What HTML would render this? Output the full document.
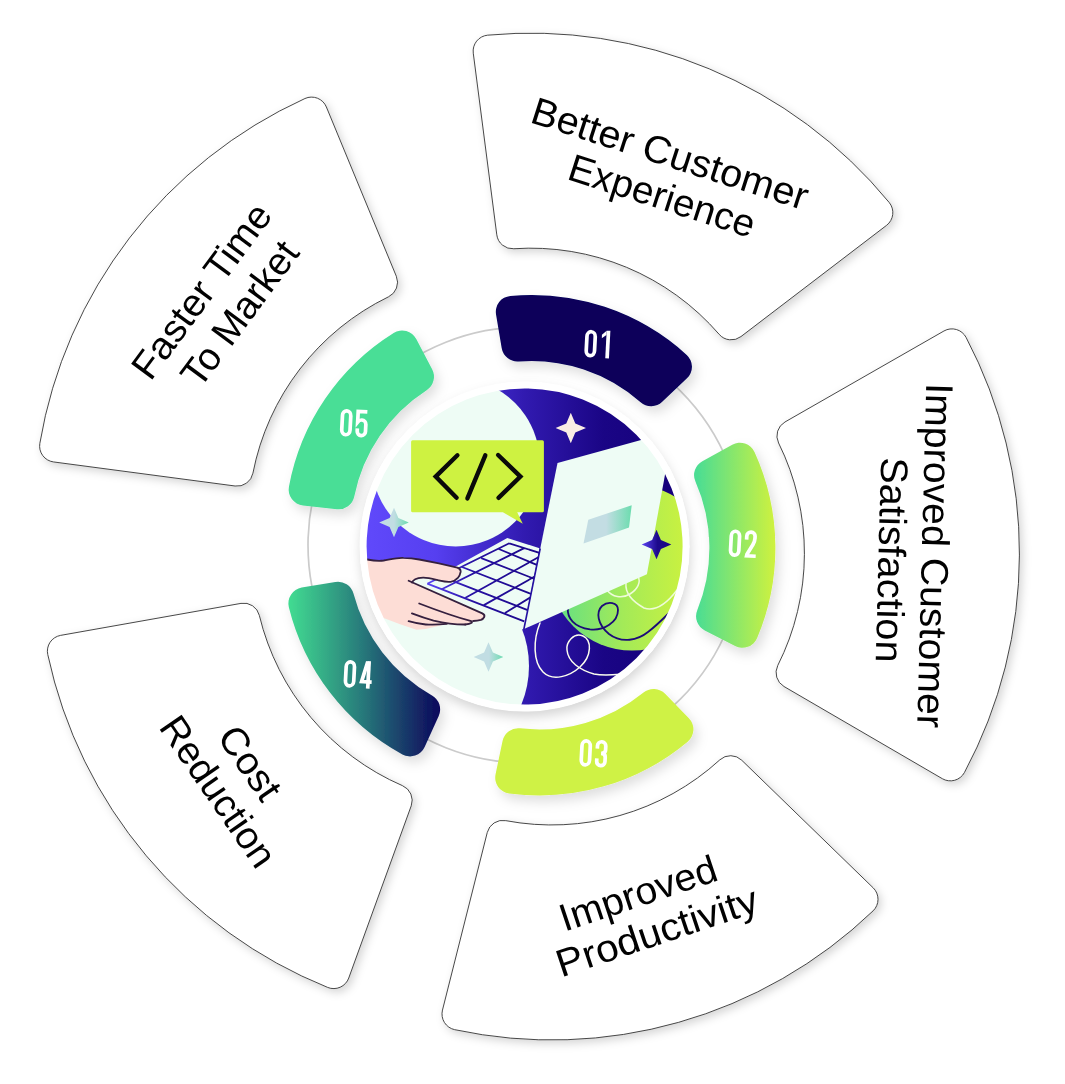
<!DOCTYPE html>
<html><head><meta charset="utf-8"><title>Diagram</title>
<style>
html,body{margin:0;padding:0;background:#fff;}
body{width:1065px;height:1084px;overflow:hidden;font-family:"Liberation Sans",sans-serif;}
svg{display:block}
.lbl{font-family:"Liberation Sans",sans-serif;font-size:38.5px;fill:#000;text-anchor:start}
.num{font-family:"Liberation Sans",sans-serif;font-weight:bold;font-size:39px;fill:#fff;text-anchor:middle}
</style></head><body>
<svg width="1065" height="1084" viewBox="0 0 1065 1084">
<defs>
<filter id="shP" x="-10%" y="-10%" width="125%" height="125%"><feDropShadow dx="3" dy="3.5" stdDeviation="4" flood-color="#000" flood-opacity="0.16"/></filter>
<filter id="shS" x="-20%" y="-20%" width="150%" height="150%"><feDropShadow dx="4" dy="6" stdDeviation="6" flood-color="#000" flood-opacity="0.13"/></filter>
<filter id="shC" x="-20%" y="-20%" width="140%" height="140%"><feDropShadow dx="1" dy="6" stdDeviation="6" flood-color="#000" flood-opacity="0.17"/></filter>
<linearGradient id="g2" gradientUnits="userSpaceOnUse" x1="697" y1="0" x2="777" y2="0"><stop offset="0" stop-color="#4bdd93"/><stop offset="1" stop-color="#d2f23c"/></linearGradient>
<linearGradient id="g4" gradientUnits="userSpaceOnUse" x1="287" y1="0" x2="440" y2="0"><stop offset="0" stop-color="#42de92"/><stop offset="0.5" stop-color="#27787a"/><stop offset="1" stop-color="#0c065c"/></linearGradient>
<clipPath id="cc"><circle cx="524.6" cy="546.5" r="159"/></clipPath>
</defs>
<rect width="1065" height="1084" fill="#fff"/>

<g filter="url(#shP)" fill="#fff" stroke="#333" stroke-width="0.9">
<path d="M496.81 234.83L473.28 53.15A16.0 16.0 0 0 1 487.66 35.17A464.0 464.0 0 0 1 889.20 202.48A16.0 16.0 0 0 1 886.56 225.35L740.98 336.57A16.0 16.0 0 0 1 719.16 334.32A249.0 249.0 0 0 0 513.77 248.74A16.0 16.0 0 0 1 496.81 234.83Z"/>
<path d="M784.98 421.99L943.97 330.98A16.0 16.0 0 0 1 966.08 337.41A464.0 464.0 0 0 1 964.49 772.41A16.0 16.0 0 0 1 942.33 778.69L784.01 686.51A16.0 16.0 0 0 1 777.77 665.48A249.0 249.0 0 0 0 778.59 442.97A16.0 16.0 0 0 1 784.98 421.99Z"/>
<path d="M741.73 760.22L873.17 887.82A16.0 16.0 0 0 1 873.10 910.85A464.0 464.0 0 0 1 454.64 1029.66A16.0 16.0 0 0 1 442.48 1010.10L487.27 832.46A16.0 16.0 0 0 1 505.75 820.65A249.0 249.0 0 0 0 719.79 759.88A16.0 16.0 0 0 1 741.73 760.22Z"/>
<path d="M411.22 805.84L348.74 978.05A16.0 16.0 0 0 1 327.71 987.43A464.0 464.0 0 0 1 47.75 654.50A16.0 16.0 0 0 1 60.60 635.39L240.98 603.39A16.0 16.0 0 0 1 259.33 615.40A249.0 249.0 0 0 0 402.53 785.70A16.0 16.0 0 0 1 411.22 805.84Z"/>
<path d="M235.12 486.00L53.51 461.93A16.0 16.0 0 0 1 39.83 443.41A464.0 464.0 0 0 1 304.95 98.53A16.0 16.0 0 0 1 326.37 106.98L396.33 276.29A16.0 16.0 0 0 1 388.53 296.79A249.0 249.0 0 0 0 252.92 473.20A16.0 16.0 0 0 1 235.12 486.00Z"/>
</g>
<g style="opacity:0.999">
<text class="lbl" transform="translate(531.8 123.0) rotate(17.8)" x="-3.23" y="0" textLength="288.4" lengthAdjust="spacingAndGlyphs">Better Customer</text>
<text class="lbl" transform="translate(568.7 179.8) rotate(17.8)" x="-3.16" y="0" textLength="193.8" lengthAdjust="spacingAndGlyphs">Experience</text>
<text class="lbl" transform="translate(926.2 386.5) rotate(91.5)" x="-3.62" y="0" textLength="344.8" lengthAdjust="spacingAndGlyphs">Improved Customer</text>
<text class="lbl" transform="translate(881.1 458.8) rotate(91.5)" x="-1.78" y="0" textLength="205.3" lengthAdjust="spacingAndGlyphs">Satisfaction</text>
<text class="lbl" transform="translate(568.0 930.6) rotate(-18.5)" x="-3.62" y="0" textLength="163.9" lengthAdjust="spacingAndGlyphs">Improved</text>
<text class="lbl" transform="translate(564.5 976.4) rotate(-18.5)" x="-3.32" y="0" textLength="210.2" lengthAdjust="spacingAndGlyphs">Productivity</text>
<text class="lbl" transform="translate(217.4 738.6) rotate(55.5)" x="-1.97" y="0" textLength="81.2" lengthAdjust="spacingAndGlyphs">Cost</text>
<text class="lbl" transform="translate(159.9 729.9) rotate(55.5)" x="-3.15" y="0" textLength="174.1" lengthAdjust="spacingAndGlyphs">Reduction</text>
<text class="lbl" transform="translate(152.3 379.4) rotate(-53.5)" x="-3.20" y="0" textLength="207.3" lengthAdjust="spacingAndGlyphs">Faster Time</text>
<text class="lbl" transform="translate(200.2 389.0) rotate(-53.5)" x="-0.92" y="0" textLength="170.1" lengthAdjust="spacingAndGlyphs">To Market</text>
</g>
<circle cx="526.1" cy="545.0" r="218.1" fill="none" stroke="#cbcbcb" stroke-width="1.7"/>
<g filter="url(#shS)">
<path d="M501.68 348.10L496.05 314.46A16.0 16.0 0 0 1 510.37 295.88A231.0 231.0 0 0 1 686.70 354.88A16.0 16.0 0 0 1 686.96 378.33L662.22 401.82A16.0 16.0 0 0 1 640.62 402.21A165.0 165.0 0 0 0 518.70 361.41A16.0 16.0 0 0 1 501.68 348.10Z" fill="#07005a"/>
<path d="M702.36 461.16L732.25 444.72A16.0 16.0 0 0 1 754.51 452.09A231.0 231.0 0 0 1 757.14 638.01A16.0 16.0 0 0 1 735.09 646.01L704.75 630.42A16.0 16.0 0 0 1 697.24 610.17A165.0 165.0 0 0 0 695.42 481.62A16.0 16.0 0 0 1 702.36 461.16Z" fill="url(#g2)"/>
<path d="M665.11 693.76L688.89 718.22A16.0 16.0 0 0 1 687.68 741.65A231.0 231.0 0 0 1 509.12 793.49A16.0 16.0 0 0 1 495.56 774.36L502.54 740.96A16.0 16.0 0 0 1 520.08 728.35A165.0 165.0 0 0 0 643.54 692.50A16.0 16.0 0 0 1 665.11 693.76Z" fill="#cff245"/>
<path d="M438.71 715.93L424.65 747.01A16.0 16.0 0 0 1 402.41 754.46A231.0 231.0 0 0 1 288.83 607.24A16.0 16.0 0 0 1 301.68 587.62L335.31 581.90A16.0 16.0 0 0 1 353.47 593.61A165.0 165.0 0 0 0 432.00 695.40A16.0 16.0 0 0 1 438.71 715.93Z" fill="url(#g4)"/>
<path d="M336.82 509.20L302.91 505.47A16.0 16.0 0 0 1 288.93 486.64A231.0 231.0 0 0 1 393.63 332.99A16.0 16.0 0 0 1 416.27 339.11L432.14 369.31A16.0 16.0 0 0 1 426.64 390.20A165.0 165.0 0 0 0 354.25 496.44A16.0 16.0 0 0 1 336.82 509.20Z" fill="#48de96"/>
</g>
<g transform="translate(597.2 344.0) rotate(3) translate(-12.47 -13.8)" fill="none" stroke="#fff" stroke-width="3.7" stroke-linejoin="miter"><rect x="1.85" y="1.85" width="8.3" height="23.9" rx="4.15" ry="4.8"/><g transform="translate(16.75 0)"><path d="M6.35 0V27.6"/><path d="M4.5 0L0 4.4V7.8L4.5 4.4Z" fill="#fff" stroke="none"/></g></g>
<g transform="translate(742.9 543.6) rotate(3) translate(-13.85 -13.8)" fill="none" stroke="#fff" stroke-width="3.7" stroke-linejoin="miter"><rect x="1.85" y="1.85" width="8.3" height="23.9" rx="4.15" ry="4.8"/><g transform="translate(15.50 0)"><path d="M1.85 9.7V6A4.15 4.15 0 0 1 10.15 6V8Q10.15 11.5 8.2 14.8L3.0 24.2L2.7 25.75H11.8"/></g></g>
<g transform="translate(593.5 753.3) rotate(3) translate(-13.75 -13.8)" fill="none" stroke="#fff" stroke-width="3.7" stroke-linejoin="miter"><rect x="1.85" y="1.85" width="8.3" height="23.9" rx="4.15" ry="4.8"/><g transform="translate(15.50 0)"><path d="M1.85 8.9V6A4.15 4.15 0 0 1 10.15 6V10Q10.15 13.4 5.8 13.4Q10.15 13.4 10.15 17V21.6A4.15 4.15 0 0 1 1.85 21.6V18.7"/></g></g>
<g transform="translate(358 674.3) rotate(3) translate(-14.05 -13.8)" fill="none" stroke="#fff" stroke-width="3.7" stroke-linejoin="miter"><rect x="1.85" y="1.85" width="8.3" height="23.9" rx="4.15" ry="4.8"/><g transform="translate(15.50 0)"><path d="M9 0V27.6"/><path d="M7.7 0.6L2.5 20.9H12.6"/></g></g>
<g transform="translate(354 423.2) rotate(3) translate(-13.75 -13.8)" fill="none" stroke="#fff" stroke-width="3.7" stroke-linejoin="miter"><rect x="1.85" y="1.85" width="8.3" height="23.9" rx="4.15" ry="4.8"/><g transform="translate(15.50 0)"><path d="M11 1.85H1.85V12.4Q3.4 10.2 6 10.2A4.15 4.15 0 0 1 10.15 14.35V21.6A4.15 4.15 0 0 1 1.85 21.6V18.7"/></g></g>
<circle cx="524.6" cy="546.5" r="164.5" fill="#fff" filter="url(#shC)"/>
<defs>
<linearGradient id="bg" gradientUnits="userSpaceOnUse" x1="366" y1="0" x2="683" y2="0">
<stop offset="0" stop-color="#6049fb"/><stop offset="0.22" stop-color="#563ff0"/><stop offset="0.5" stop-color="#311ab0"/><stop offset="0.75" stop-color="#1a0585"/><stop offset="1" stop-color="#15007a"/></linearGradient>
<linearGradient id="lime" gradientUnits="userSpaceOnUse" x1="555" y1="0" x2="690" y2="0">
<stop offset="0" stop-color="#62df85"/><stop offset="0.5" stop-color="#a3ea58"/><stop offset="1" stop-color="#cdf23e"/></linearGradient>
<linearGradient id="sg1" gradientUnits="userSpaceOnUse" x1="379" y1="0" x2="409" y2="0"><stop offset="0.5" stop-color="#c1dde3"/><stop offset="1" stop-color="#68dbae"/></linearGradient>
<linearGradient id="sg2" gradientUnits="userSpaceOnUse" x1="474" y1="0" x2="504" y2="0"><stop offset="0.5" stop-color="#c1dde3"/><stop offset="1" stop-color="#68dbae"/></linearGradient>
<linearGradient id="sg3" gradientUnits="userSpaceOnUse" x1="641" y1="0" x2="671" y2="0"><stop offset="0" stop-color="#5f48fa"/><stop offset="0.55" stop-color="#1d0a8c"/><stop offset="1" stop-color="#1a0585"/></linearGradient>
<linearGradient id="rg" gradientUnits="userSpaceOnUse" x1="585" y1="0" x2="632" y2="0"><stop offset="0.45" stop-color="#c3dde3"/><stop offset="1" stop-color="#6bdcae"/></linearGradient>
<linearGradient id="kg" gradientUnits="userSpaceOnUse" x1="427" y1="0" x2="540" y2="0"><stop offset="0" stop-color="#5a44f5"/><stop offset="0.4" stop-color="#2610a2"/><stop offset="1" stop-color="#1b0788"/></linearGradient>
</defs>
<g clip-path="url(#cc)">
<rect x="360" y="380" width="330" height="335" fill="url(#bg)"/>
<circle cx="455.7" cy="462.4" r="84" fill="#eefcf5"/>
<circle cx="428" cy="666" r="101" fill="#eefcf5"/>
<circle cx="632" cy="567.6" r="83" fill="url(#lime)"/>
<path d="M540 623C533 640 533 662 543 672C553 682 570 676 580 667C592 656 592 640 583 636C574 632 566 642 567 650C568 662 580 670 594 674C604 676 612 675 622 674" fill="none" stroke="#fbfdee" stroke-width="1.5" stroke-linecap="round"/>
<path d="M567.9 608C567 618 574 627 590 629.4C604 631 618 622 618 610C618 602 608 601 602 606C596 612 597 624 609 634C622 644 638 640 648 632C656 626 662 620 670 612" fill="none" stroke="#1c0b78" stroke-width="1.8" stroke-linecap="round"/>
<path d="M607 590C612 597 622 599 630 594C638 589 641 582 638 576" fill="none" stroke="#eefbd8" stroke-width="1.5" stroke-linecap="round"/>
<path d="M626 583C625 592 630 600 644 608C656 612 668 602 677 590" fill="none" stroke="#eefbd8" stroke-width="1.5" stroke-linecap="round"/>
<path d="M507.3 537.9L539.5 548.3L524 629L440 645L395 600Z" fill="#eefcf5"/>
<path d="M509.3 543.3L427.3 583.7M524.2 548.1L441.7 589.3M541.0 555.8L465.5 597.7M536.0 575.8L483.9 605.1M533.0 595.8L505.0 613.0M509.3 543.3L540.3 553.1M498.8 549.0L538.6 565.7M481.3 558.2L536.9 579.8M462.0 567.0L532.5 594.5M442.2 576.9L529.0 610.7M427.3 583.7L524.2 621.3" fill="none" stroke="url(#kg)" stroke-width="1.8"/>
<path d="M557.5 463L672.9 431.2L646.9 574.3L524 629Z" fill="#eefcf5"/>
<path d="M540.2 548.5L523.8 629.5" fill="none" stroke="#2410a0" stroke-width="1.6"/>
<path d="M588.3 519.7L631.7 505.3L629 527.6L583.5 543.6Z" fill="url(#rg)"/>
<path d="M355 559L367.2 559.5C375 561 380 561 383.7 560.5C392 559 398 557.5 403.4 557.9C410 558 414 558.5 419.2 559.5L438.9 563.4L457.3 567.6C460 568.5 461 569.5 460.6 572C460 575 459 577 457.9 577.9C456 580 454 581.3 450.7 581.8C446 582.3 442 581.2 438.9 580.5C433 579 428 577.5 423.1 577.6C419 577.7 417 578.2 415.2 579.2C413.5 580.2 412.5 581.3 411.9 582.5L408.6 580.8L482.3 613.4C484.5 614.5 485 615.3 484.2 617C483.5 618.5 482.5 619.3 480.9 619.9C478 620.8 476 621 473.1 621L470.4 620.9C472 621.5 472.3 622 471.7 622.8C470 624 468 624.4 465.2 624.5L446.8 623.9L425.7 629.1L416.5 629.8L399.4 623.9L385 618.6L355 612Z" fill="#fdddd6"/>
<path d="M360 559.5L367.2 559.5C375 561 380 561 383.7 560.5C392 559 398 557.5 403.4 557.9C410 558 414 558.5 419.2 559.5L438.9 563.4L457.3 567.6C460 568.5 461 569.5 460.6 572C460 575 459 577 457.9 577.9C456 580 454 581.3 450.7 581.8C446 582.3 442 581.2 438.9 580.5C433 579 428 577.5 423.1 577.6C419 577.7 417 578.2 415.2 579.2C413.5 580.2 412.5 581.3 411.9 582.5" fill="none" stroke="#35203f" stroke-width="1.8" stroke-linecap="round" stroke-linejoin="round"/>
<path d="M408.6 580.8L482.3 613.4C484.5 614.5 485 615.3 484.2 617C483.5 618.5 482.5 619.3 480.9 619.9C478 620.8 476 621 473.1 621" fill="none" stroke="#35203f" stroke-width="1.8" stroke-linecap="round" stroke-linejoin="round"/>
<path d="M419.2 603.5C436 610 452 616 470.4 620.9C472 621.5 472.3 622 471.7 622.8C470 624 468 624.4 465.2 624.5" fill="none" stroke="#35203f" stroke-width="1.8" stroke-linecap="round" stroke-linejoin="round"/>
<path d="M411.9 613.4C420 616.5 427 618.8 433.6 620.6C444 623 455 624.6 465.2 624.5" fill="none" stroke="#35203f" stroke-width="1.8" stroke-linecap="round" stroke-linejoin="round"/>
<path d="M408.6 621.2C414 622.8 420 624 425.7 624.5C433 625 440 624.6 446.8 623.9" fill="none" stroke="#35203f" stroke-width="1.8" stroke-linecap="round" stroke-linejoin="round"/>
<path d="M412.6 440.3H542.4Q543.9 440.3 543.9 441.8V510.7Q543.9 512.2 542.4 512.2H517.2L522.8 523.7L502.9 512.2H412.6Q411.1 512.2 411.1 510.7V441.8Q411.1 440.3 412.6 440.3Z" fill="#cef241"/>
<path d="M457.4 455.3L435.7 476.6L456.6 497.8M485.3 455.3L467.4 498.4M498.1 455L520.4 476.6L498.5 497.8" fill="none" stroke="#0a0a0a" stroke-width="4.4" stroke-linecap="round" stroke-linejoin="miter"/>
<path d="M394.00 507.70 L398.40 518.10 L408.80 522.50 L398.40 526.90 L394.00 537.30 L389.60 526.90 L379.20 522.50 L389.60 518.10Z" fill="url(#sg1)"/>
<path d="M488.50 642.20 L492.90 652.60 L503.30 657.00 L492.90 661.40 L488.50 671.80 L484.10 661.40 L473.70 657.00 L484.10 652.60Z" fill="url(#sg2)"/>
<path d="M570.80 412.80 L575.31 423.49 L586.00 428.00 L575.31 432.51 L570.80 443.20 L566.29 432.51 L555.60 428.00 L566.29 423.49Z" fill="#f9ede4"/>
<path d="M656.50 529.70 L660.90 540.10 L671.30 544.50 L660.90 548.90 L656.50 559.30 L652.10 548.90 L641.70 544.50 L652.10 540.10Z" fill="url(#sg3)"/>
</g>
<circle cx="524.6" cy="546.5" r="161.5" fill="none" stroke="#fff" stroke-width="7"/>
</svg></body></html>
